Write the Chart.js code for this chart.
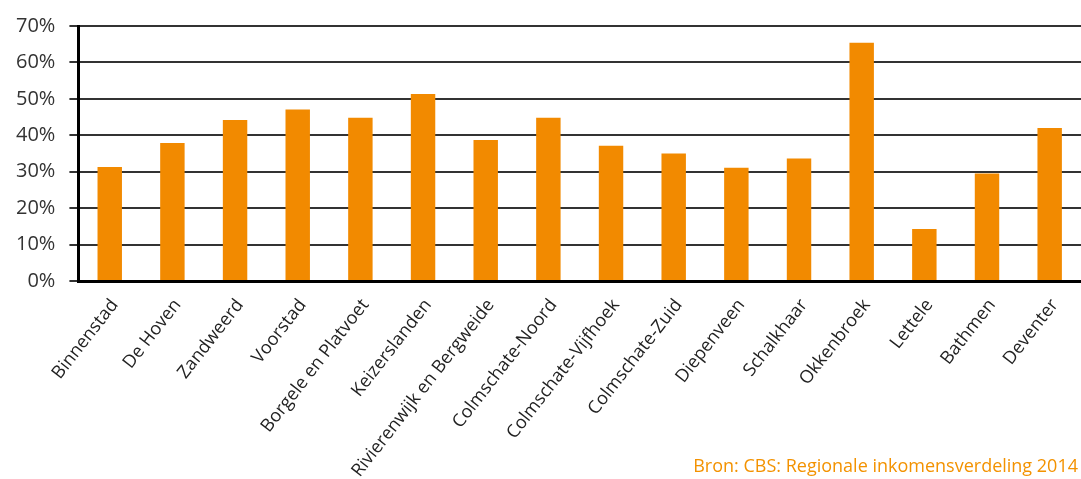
<!DOCTYPE html>
<html>
<head>
<meta charset="utf-8" />
<title>Inkomensverdeling Deventer</title>
<script src="https://cdn.jsdelivr.net/npm/chart.js@4.4.0/dist/chart.umd.min.js"></script>
<style>
  html, body { margin: 0; padding: 0; background: #fff; }
  #wrap { position: relative; width: 1081px; height: 479px; }
  #bron {
    position: absolute; right: 3px; top: 453px;
    font-family: 'Open Sans', 'DejaVu Sans', sans-serif; font-size: 18px;
    color: #f39200; white-space: nowrap;
  }
</style>
</head>
<body>
<div id="wrap">
  <canvas id="myChart"></canvas>
  <div id="bron"></div>
</div>
<script>
// wijken (categories)
const wijken = [
  'Binnenstad', 'De Hoven', 'Zandweerd', 'Voorstad', 'Borgele en Platvoet',
  'Keizerslanden', 'Rivierenwijk en Bergweide', 'Colmschate-Noord',
  'Colmschate-Vijfhoek', 'Colmschate-Zuid', 'Diepenveen', 'Schalkhaar',
  'Okkenbroek', 'Lettele', 'Bathmen', 'Deventer'
];
// percentage per wijk
const percentages = [31.3, 37.9, 44.2, 47.1, 44.8, 51.3, 38.7, 44.8,
                     37.1, 35.0, 31.1, 33.6, 65.4, 14.3, 29.5, 42.0];
// y axis
const yMin = 0;
const yMax = 70;
const yStep = 10;
const bron = 'Bron: CBS: Regionale inkomensverdeling 2014';

const orange = '#f28a00';
const fontName = "'Open Sans', 'DejaVu Sans', sans-serif";

document.getElementById('bron').textContent = bron;

let ctx = document.getElementById('myChart').getContext('2d');
let chart = new Chart(ctx, {
  type: 'bar',
  data: {
    labels: wijken,
    datasets: [{
      data: percentages,
      backgroundColor: orange,
      borderWidth: 0,
      categoryPercentage: 1,
      barPercentage: 0.39
    }]
  },
  options: {
    responsive: true,
    maintainAspectRatio: false,
    animation: false,
    layout: { padding: { top: 14, left: 2, right: 0, bottom: 0 } },
    plugins: {
      legend: { display: false },
      tooltip: { enabled: false }
    },
    scales: {
      x: {
        grid: { display: false },
        border: { display: true, color: '#000', width: 3 },
        // labels run down to the bottom edge, like the original
        afterFit: (scale) => { scale.height = 198; },
        ticks: {
          color: '#222',
          font: { family: fontName, size: 18 },
          minRotation: 52,
          maxRotation: 52,
          autoSkip: false,
          labelOffset: 5,
          padding: 6
        }
      },
      y: {
        min: yMin,
        max: yMax,
        grid: { color: '#333', lineWidth: 2, tickLength: 9 },
        border: { display: true, color: '#000', width: 3 },
        ticks: {
          stepSize: yStep,
          color: '#333',
          font: { family: fontName, size: 20 },
          padding: 14,
          callback: (v) => v + '%'
        }
      }
    }
  }
});
</script>
</body>
</html>
